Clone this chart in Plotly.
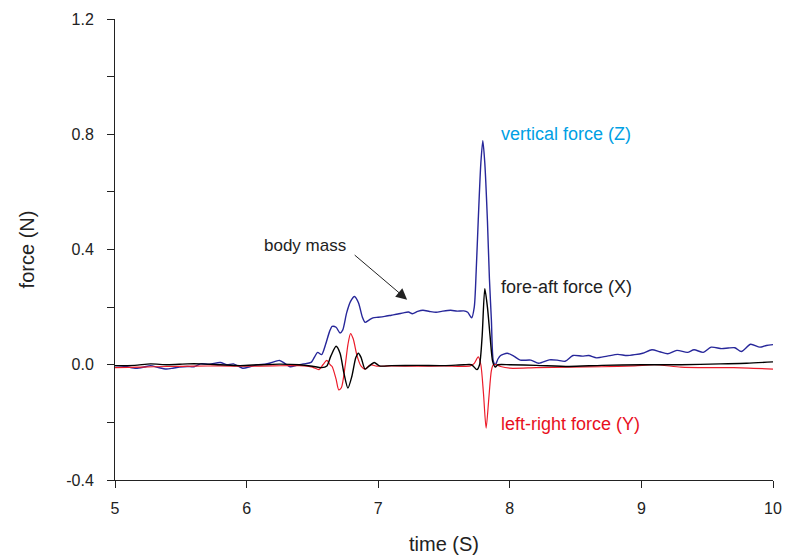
import plotly.graph_objects as go

# vertical force (Z)
t_z = [5.00, 5.08, 5.16, 5.22, 5.27, 5.33, 5.39, 5.44, 5.49, 5.55, 5.60, 5.65, 5.72, 5.80, 5.85, 5.90,
       5.97, 6.03, 6.08, 6.14, 6.18, 6.25, 6.29, 6.33, 6.38, 6.43, 6.49, 6.52, 6.54, 6.57, 6.60, 6.63,
       6.65, 6.68, 6.71, 6.73, 6.76, 6.79, 6.82, 6.85, 6.88, 6.90, 6.93, 6.96, 7.00, 7.05, 7.10, 7.15,
       7.19, 7.23, 7.26, 7.30, 7.34, 7.39, 7.44, 7.49, 7.55, 7.60, 7.65, 7.68, 7.71, 7.73, 7.745, 7.76,
       7.78, 7.795, 7.81, 7.83, 7.845, 7.86, 7.875, 7.89, 7.91, 7.93, 7.98, 8.03, 8.08, 8.16, 8.22, 8.30,
       8.36, 8.42, 8.48, 8.55, 8.60, 8.66, 8.74, 8.82, 8.89, 8.95, 9.01, 9.08, 9.14, 9.20, 9.27, 9.35,
       9.40, 9.47, 9.53, 9.61, 9.66, 9.71, 9.76, 9.83, 9.90, 9.95, 10.0]
f_z = [-0.003, -0.006, -0.012, -0.008, -0.003, -0.010, -0.015, -0.012, -0.008, -0.006, -0.007, 0.003,
       0.002, 0.008, 0.000, 0.003, -0.012, -0.006, 0.000, 0.002, 0.006, 0.015, 0.005, -0.007, -0.002,
       0.003, 0.008, 0.030, 0.043, 0.035, 0.070, 0.115, 0.133, 0.130, 0.110, 0.120, 0.180, 0.220, 0.237,
       0.215, 0.165, 0.147, 0.155, 0.163, 0.165, 0.168, 0.172, 0.176, 0.180, 0.183, 0.177, 0.185, 0.189,
       0.185, 0.182, 0.186, 0.189, 0.186, 0.187, 0.182, 0.163, 0.200, 0.330, 0.500, 0.700, 0.778, 0.700,
       0.500, 0.300, 0.156, 0.012, 0.000, 0.020, 0.032, 0.040, 0.030, 0.016, 0.016, 0.005, 0.017, 0.016,
       0.012, 0.032, 0.030, 0.032, 0.024, 0.030, 0.036, 0.032, 0.035, 0.040, 0.052, 0.045, 0.038, 0.050,
       0.043, 0.052, 0.043, 0.061, 0.056, 0.058, 0.059, 0.046, 0.071, 0.061, 0.067, 0.070]

# fore-aft force (X)
t_x = [5.00, 5.15, 5.27, 5.40, 5.55, 5.65, 5.80, 5.95, 6.10, 6.25, 6.40, 6.50, 6.57, 6.61, 6.64, 6.68,
       6.71, 6.74, 6.77, 6.80, 6.83, 6.85, 6.87, 6.90, 6.93, 6.97, 7.01, 7.10, 7.30, 7.50, 7.65, 7.71,
       7.75, 7.77, 7.79, 7.81, 7.83, 7.85, 7.87, 7.89, 7.91, 8.00, 8.20, 8.45, 8.70, 9.00, 9.30, 9.60,
       9.80, 10.0]
f_x = [-0.003, -0.002, 0.003, 0.000, 0.003, 0.003, 0.000, -0.003, 0.000, 0.002, 0.000, -0.005, -0.010,
       -0.004, 0.030, 0.064, 0.040, -0.030, -0.081, -0.040, 0.025, 0.040, 0.025, -0.015, -0.005, 0.008,
       -0.004, -0.003, -0.002, -0.003, 0.000, 0.000, -0.017, 0.000, 0.100, 0.264, 0.200, 0.100, 0.011,
       -0.008, 0.000, 0.000, -0.002, -0.006, -0.002, 0.000, 0.000, 0.003, 0.005, 0.010]

# left-right force (Y)
t_y = [5.00, 5.20, 5.40, 5.60, 5.80, 6.00, 6.20, 6.40, 6.50, 6.55, 6.58, 6.61, 6.635, 6.65, 6.68, 6.70,
       6.72, 6.75, 6.77, 6.79, 6.81, 6.84, 6.87, 6.90, 6.94, 6.99, 7.10, 7.30, 7.50, 7.70, 7.73, 7.76,
       7.78, 7.80, 7.82, 7.84, 7.86, 7.875, 7.90, 7.93, 8.00, 8.20, 8.45, 8.70, 8.95, 9.10, 9.30, 9.50,
       9.70, 10.0]
f_y = [-0.010, -0.008, -0.006, -0.005, -0.004, -0.005, -0.004, -0.003, -0.008, -0.017, 0.000, 0.015,
       0.000, -0.006, -0.050, -0.087, -0.080, 0.000, 0.070, 0.108, 0.090, 0.030, -0.005, -0.015, 0.000,
       -0.005, -0.004, -0.005, -0.004, -0.004, 0.005, 0.027, 0.000, -0.100, -0.220, -0.120, -0.020, 0.000,
       0.000, -0.006, -0.012, -0.010, -0.008, -0.007, -0.004, 0.000, -0.008, -0.010, -0.010, -0.015]

y_ticks = [-0.4, 0.0, 0.4, 0.8, 1.2]
y_tick_text = ["-0.4", "0.0", "0.4", "0.8", "1.2"]
y_minor = [-0.2, 0.2, 0.6, 1.0]
x_ticks = [5, 6, 7, 8, 9, 10]

FONT = "Liberation Sans, Arial, sans-serif"

fig = go.Figure()
fig.add_trace(go.Scatter(x=t_z, y=f_z, mode="lines", name="vertical force (Z)",
                         line=dict(color="#27279a", width=1.4, shape="spline", smoothing=0.7)))
fig.add_trace(go.Scatter(x=t_y, y=f_y, mode="lines", name="left-right force (Y)",
                         line=dict(color="#ec1c2a", width=1.2, shape="spline", smoothing=0.7)))
fig.add_trace(go.Scatter(x=t_x, y=f_x, mode="lines", name="fore-aft force (X)",
                         line=dict(color="#000000", width=1.4, shape="spline", smoothing=0.7)))

fig.update_layout(
    width=786, height=560,
    margin=dict(l=115, r=13, t=19, b=80),
    paper_bgcolor="white", plot_bgcolor="white",
    showlegend=False,
    font=dict(family=FONT, size=16, color="#222222"),
)
fig.update_xaxes(range=[5, 10], tickmode="array", tickvals=x_ticks, automargin=False,
                 showgrid=False, zeroline=False, showline=True, linecolor="#222222", linewidth=1,
                 ticks="outside", ticklen=7, tickcolor="#222222", ticklabelstandoff=7,
                 tickfont=dict(size=16),
                 title=dict(text="time (S)", font=dict(size=20), standoff=20))
fig.update_yaxes(range=[-0.4, 1.2], tickmode="array", tickvals=y_ticks, ticktext=y_tick_text,
                 automargin=False,
                 showgrid=False, zeroline=False, showline=True, linecolor="#222222", linewidth=1,
                 ticks="outside", ticklen=7, tickcolor="#222222", ticklabelstandoff=10,
                 minor=dict(tickmode="array", tickvals=y_minor, ticks="outside", ticklen=7,
                            tickcolor="#222222", showgrid=False),
                 tickfont=dict(size=16),
                 title=dict(text="force (N)", font=dict(size=20), standoff=26))

fig.add_annotation(x=7.92, y=0.8, xref="x", yref="y", text="vertical force (Z)", showarrow=False,
                   xanchor="left", yanchor="middle", font=dict(size=18, color="#00a0e4"))
fig.add_annotation(x=7.92, y=0.27, xref="x", yref="y", text="fore-aft force (X)", showarrow=False,
                   xanchor="left", yanchor="middle", font=dict(size=18, color="#222222"))
fig.add_annotation(x=7.92, y=-0.205, xref="x", yref="y", text="left-right force (Y)", showarrow=False,
                   xanchor="left", yanchor="middle", font=dict(size=18, color="#e8101e"))
fig.add_annotation(x=6.44, y=0.413, xref="x", yref="y", text="body mass", showarrow=False,
                   xanchor="center", yanchor="middle", font=dict(size=17, color="#222222"))
fig.add_annotation(x=7.22, y=0.226, xref="x", yref="y", ax=6.81, ay=0.385, axref="x", ayref="y",
                   text="", showarrow=True, arrowhead=2, arrowsize=2.2, arrowwidth=1,
                   arrowcolor="#222222")

fig.write_html("out.html", config={"displayModeBar": False},
               post_script="document.body.style.margin='0';")
